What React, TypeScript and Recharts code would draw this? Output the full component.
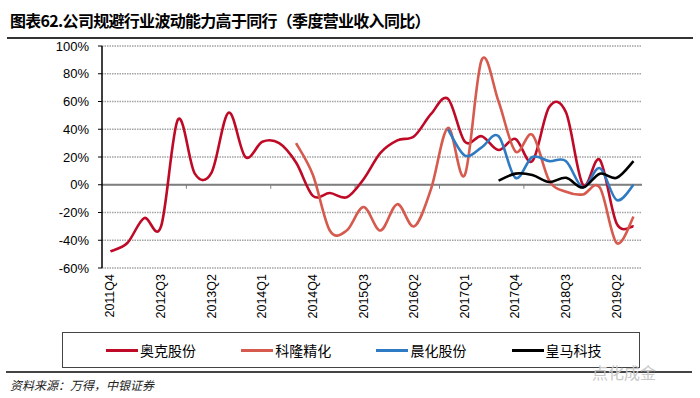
import React from 'react';
import { LineChart, Line, XAxis, YAxis, CartesianGrid, ReferenceLine } from 'recharts';

const quarters = [
  '2011Q4', '2012Q1', '2012Q2', '2012Q3', '2012Q4', '2013Q1', '2013Q2', '2013Q3',
  '2013Q4', '2014Q1', '2014Q2', '2014Q3', '2014Q4', '2015Q1', '2015Q2', '2015Q3',
  '2015Q4', '2016Q1', '2016Q2', '2016Q3', '2016Q4', '2017Q1', '2017Q2', '2017Q3',
  '2017Q4', '2018Q1', '2018Q2', '2018Q3', '2018Q4', '2019Q1', '2019Q2', '2019Q3',
];

// 季度营业收入同比, %
const aoke = [
  -48, -42, -24, -30, 47, 8, 9, 52, 20, 31, 30, 16, -8, -6, -9, 4,
  23, 32, 35, 51, 62, 31, 35, 25, 33, 17, 56, 52, 0, 18, -28, -30,
];
const kelong = [
  null, null, null, null, null, null, null, null, null, null, null, 30, 7, -33, -33, -16,
  -33, -14, -30, -3, 41, 7, 90, 60, 24, 36, 3, -5, -7, -2, -42, -23,
];
const chenhua = [
  null, null, null, null, null, null, null, null, null, null, null, null, null, null, null, null,
  null, null, null, null, 40, 21, 27, 35, 5, 20, 17, 17, -2, 12, -11, 0,
];
const huangma = [
  null, null, null, null, null, null, null, null, null, null, null, null, null, null, null, null,
  null, null, null, null, null, null, null, 3, 8, 7, 2, 5, -2, 8, 5, 17,
];

const yTicks = [-60, -40, -20, 0, 20, 40, 60, 80, 100];
const zeroTicks = ['2013Q1', '2014Q2', '2015Q3', '2016Q4', '2018Q1', '2019Q2'];

const series = [
  { key: 'aoke', name: '奥克股份', color: '#BE0A26' },
  { key: 'kelong', name: '科隆精化', color: '#D65A4E' },
  { key: 'chenhua', name: '晨化股份', color: '#2E7BC4' },
  { key: 'huangma', name: '皇马科技', color: '#000000' },
];

const data = quarters.map((q, i) => ({
  q,
  aoke: aoke[i],
  kelong: kelong[i],
  chenhua: chenhua[i],
  huangma: huangma[i],
}));

const margin = { top: 46, right: 58, bottom: 2, left: 42 };
const Y_AXIS_W = 60;
const halfStep = (700 - margin.left - margin.right - Y_AXIS_W) / quarters.length / 2;

const latin = '"Liberation Sans", Arial, sans-serif';
const cjk = '"Noto Sans CJK SC", "Noto Sans", sans-serif';

// Excel-style smoothed line (Catmull-Rom through every point)
const smoothCurve = (context: any) => {
  let px: number[] = [];
  let py: number[] = [];
  return {
    areaStart() {},
    areaEnd() {},
    lineStart() {
      px = [];
      py = [];
    },
    point(x: number, y: number) {
      px.push(+x);
      py.push(+y);
    },
    lineEnd() {
      const n = px.length;
      if (!n) return;
      context.moveTo(px[0], py[0]);
      if (n === 1) {
        context.lineTo(px[0], py[0]);
        return;
      }
      for (let i = 0; i < n - 1; i++) {
        const a = Math.max(i - 1, 0);
        const d = Math.min(i + 2, n - 1);
        context.bezierCurveTo(
          px[i] + (px[i + 1] - px[a]) / 6,
          py[i] + (py[i + 1] - py[a]) / 6,
          px[i + 1] - (px[d] - px[i]) / 6,
          py[i + 1] - (py[d] - py[i]) / 6,
          px[i + 1],
          py[i + 1]
        );
      }
    },
  };
};

const QuarterTick = (props: any) => {
  const { x, y, payload } = props;
  return (
    <text
      x={x}
      y={y}
      transform={`rotate(-90, ${x}, ${y})`}
      textAnchor="end"
      dominantBaseline="central"
      fontSize={12.5}
      fontFamily={latin}
      fill="#000"
    >
      {payload.value}
    </text>
  );
};

const ZeroTick = (props: any) => {
  const x = props.x1 - halfStep;
  return <line x1={x} y1={props.y1} x2={x} y2={props.y1 + 4} stroke="#7f7f7f" strokeWidth={1} />;
};

const App: React.FC = () => {
  return (
    <div style={{ position: 'absolute', left: 0, top: 0, width: 700, height: 398, background: '#fff', overflow: 'hidden' }}>
      <div style={{ position: 'absolute', left: 10, top: 8, fontFamily: cjk, fontWeight: 700, fontSize: 16, letterSpacing: -0.7, color: '#000', whiteSpace: 'nowrap' }}>
        图表62.公司规避行业波动能力高于同行（季度营业收入同比）
      </div>
      <div style={{ position: 'absolute', left: 7, top: 37, width: 686, height: 2, background: '#333' }} />

      <div style={{ position: 'absolute', left: 0, top: 0 }}>
        <LineChart width={700} height={320} data={data} margin={margin}>
          <CartesianGrid vertical={false} stroke="#a3a3a3" strokeWidth={1.5} strokeDasharray="1.5 1" />
          <XAxis
            dataKey="q"
            interval={2}
            axisLine={false}
            tickLine={false}
            tickSize={0}
            tickMargin={6}
            height={50}
            padding={{ left: halfStep, right: halfStep }}
            tick={<QuarterTick />}
          />
          <YAxis
            width={Y_AXIS_W}
            domain={[-60, 100]}
            ticks={yTicks}
            interval={0}
            tickFormatter={(v: number) => `${v}%`}
            axisLine={{ stroke: '#000', strokeWidth: 1.5 }}
            tickLine={{ stroke: '#000' }}
            tickSize={4}
            tickMargin={9}
            tick={{ fontSize: 13, fill: '#000', fontFamily: latin }}
          />
          <ReferenceLine y={0} stroke="#7f7f7f" strokeWidth={2} />
          {zeroTicks.map((q) => (
            <ReferenceLine
              key={q}
              segment={[{ x: q, y: 0 }, { x: q, y: 0 }]}
              ifOverflow="visible"
              shape={<ZeroTick />}
            />
          ))}
          {series.map((s) => (
            <Line
              key={s.key}
              dataKey={s.key}
              name={s.name}
              type={smoothCurve as any}
              stroke={s.color}
              strokeWidth={2.6}
              dot={false}
              activeDot={false}
              isAnimationActive={false}
            />
          ))}
        </LineChart>
      </div>

      {/* legend */}
      <div style={{ position: 'absolute', left: 62, top: 332, width: 576, height: 34, border: '1px solid #444' }} />
      {series.map((s, i) => (
        <div
          key={s.key}
          style={{ position: 'absolute', left: 106 + i * 135.2, top: 340, height: 20, display: 'flex', alignItems: 'center', whiteSpace: 'nowrap' }}
        >
          <div style={{ width: 32, height: 3, background: s.color, marginRight: 2 }} />
          <span style={{ fontFamily: cjk, fontSize: 14, color: '#000' }}>{s.name}</span>
        </div>
      ))}

      <div style={{ position: 'absolute', left: 6, top: 371, width: 686, height: 1.5, background: '#444' }} />
      <div style={{ position: 'absolute', left: 592, top: 360, fontFamily: cjk, fontSize: 16, color: '#c8c8c8', whiteSpace: 'nowrap' }}>
        点化成金
      </div>
      <div style={{ position: 'absolute', left: 10, top: 376, fontFamily: cjk, fontSize: 12, fontStyle: 'italic', color: '#222', whiteSpace: 'nowrap' }}>
        资料来源：万得，中银证券
      </div>
    </div>
  );
};

export default App;
